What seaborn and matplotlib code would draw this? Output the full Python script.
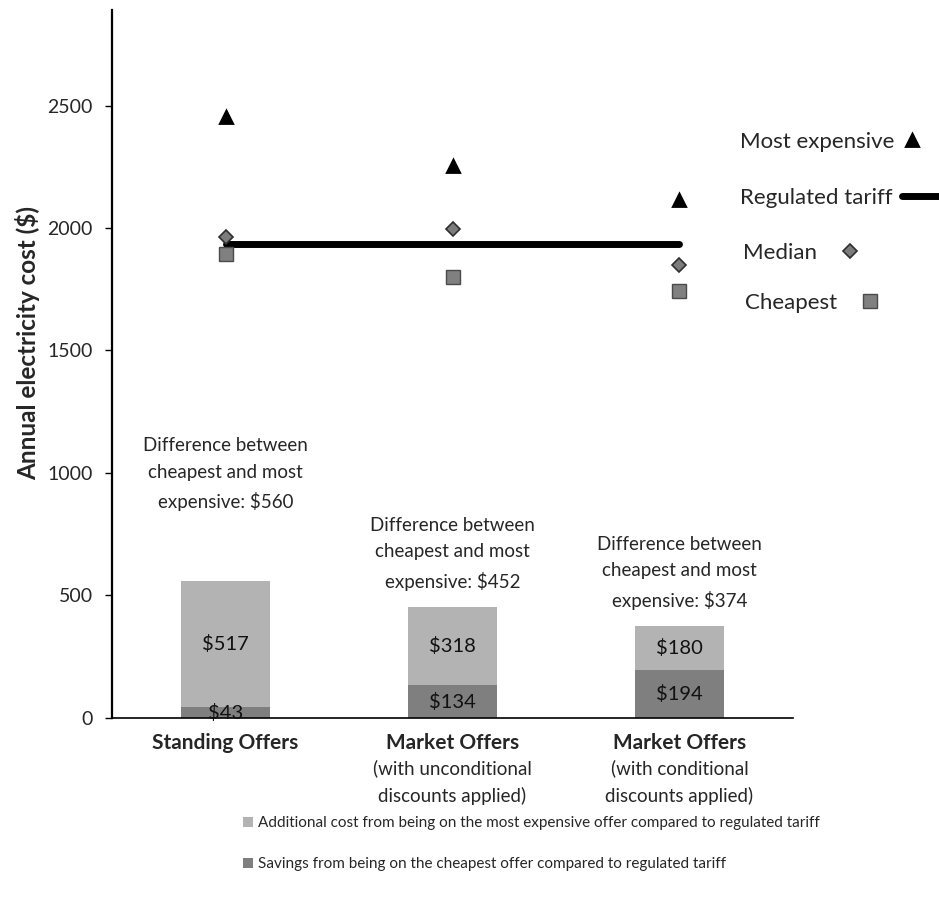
import numpy as np
import pandas as pd
import matplotlib
matplotlib.use("Agg")
import matplotlib.pyplot as plt
import seaborn as sns

# -- values --
offers = ["standing", "market_uncond", "market_cond"]
tick_main = ["Standing Offers", "Market Offers", "Market Offers"]
tick_sub = ["", "(with unconditional\ndiscounts applied)", "(with conditional\ndiscounts applied)"]

most_expensive = [2452, 2253, 2115]
median = [1965, 1995, 1850]
cheapest = [1892, 1801, 1741]
regulated = [1935, 1935, 1935]

savings = [43, 134, 194]
additional = [517, 318, 180]
difference = [560, 452, 374]

marker_labels = ["Most expensive", "Regulated tariff", "Median", "Cheapest"]
bar_labels = ["Additional cost from being on the most expensive offer compared to regulated tariff",
              "Savings from being on the cheapest offer compared to regulated tariff"]

LIGHT = "#b3b3b3"
DARK = "#7f7f7f"

df = pd.DataFrame({"offer": offers, "most_expensive": most_expensive, "median": median,
                   "cheapest": cheapest, "regulated": regulated, "savings": savings,
                   "additional": additional, "difference": difference})

sns.set_theme(style="white")
plt.rcParams["font.family"] = ["Lato", "DejaVu Sans"]

fig = plt.figure(figsize=(9.39, 8.97), dpi=100)
ax = fig.add_axes([0.1193, 0.1996, 0.7252, 0.7893])

# stacked bars: full difference first, savings drawn over the bottom
sns.barplot(data=df, x="offer", y="difference", color=LIGHT, saturation=1, width=0.39,
            errorbar=None, linewidth=0, ax=ax)
sns.barplot(data=df, x="offer", y="savings", color=DARK, saturation=1, width=0.39,
            errorbar=None, linewidth=0, ax=ax)

handles = []
sns.pointplot(data=df, x="offer", y="most_expensive", color="black", marker="^",
              linestyle="none", markersize=9, errorbar=None, ax=ax)
handles.append(ax.lines[-1])
sns.pointplot(data=df, x="offer", y="regulated", color="black", marker="",
              linewidth=5, errorbar=None, ax=ax)
handles.append(ax.lines[-1])
sns.pointplot(data=df, x="offer", y="median", color="#7c7c7c", marker="D",
              markeredgecolor="#2e2e2e", markeredgewidth=1.2, linestyle="none",
              markersize=7.5, errorbar=None, ax=ax)
handles.append(ax.lines[-1])
sns.pointplot(data=df, x="offer", y="cheapest", color="#808080", marker="s",
              markeredgecolor="#4a4a4a", markeredgewidth=1, linestyle="none",
              markersize=10, errorbar=None, ax=ax)
handles.append(ax.lines[-1])

# labels inside bar segments
for i, (s, a) in enumerate(zip(savings, additional)):
    ax.text(i, s + a / 2, f"${a}", ha="center", va="center", fontsize=14.5, color="#111111")
    ax.text(i, s / 2, f"${s}", ha="center", va="center", fontsize=14.5, color="#111111")

# difference notes above bars
note_offsets = [50, 12, 12]
for i, d in enumerate(difference):
    ax.annotate(f"Difference between\ncheapest and most\nexpensive: ${d}", xy=(i, d),
                xytext=(0, note_offsets[i]), textcoords="offset points",
                ha="center", va="bottom", fontsize=13.5, linespacing=1.7)

ax.set_xlim(-0.5, 2.5)
ax.set_ylim(0, 2890)
ax.set_yticks(np.arange(0, 2501, 500))
ax.set_xticks(range(len(offers)))
ax.set_xticklabels(tick_main, fontweight="bold", fontsize=15)
for i, sub in enumerate(tick_sub):
    ax.annotate(sub, xy=(i, 0), xycoords=("data", "axes fraction"), xytext=(0, -30),
                textcoords="offset points", ha="center", va="top", fontsize=13.5,
                linespacing=1.6)
ax.tick_params(axis="x", length=0, pad=11)
ax.tick_params(axis="y", left=True, length=5, width=1, pad=9, labelsize=14,
               direction="out", color="black")
ax.set_xlabel("")
ax.set_ylabel("Annual electricity cost ($)", fontweight="bold", fontsize=17.5)
ax.yaxis.set_label_coords(-0.106, 0.53)

for side in ["top", "right"]:
    ax.spines[side].set_visible(False)
ax.spines["left"].set_linewidth(1.6)
ax.spines["bottom"].set_linewidth(1.2)
ax.spines["left"].set_color("black")
ax.spines["bottom"].set_color("black")

# marker key on the right, one entry each
key_spots = [(0.788, 0.842, 0.3, 1.0), (0.788, 0.779, 0.45, 1.9),
             (0.791, 0.718, 1.0, 1.0), (0.793, 0.662, 1.0, 1.0)]
for h, lab, (kx, ky, pad, hl) in zip(handles, marker_labels, key_spots):
    fig.legend([h], [lab], loc="center left", bbox_to_anchor=(kx, ky), frameon=False,
               markerfirst=False, handletextpad=pad, handlelength=hl, borderpad=0,
               borderaxespad=0, fontsize=16)

# bar key underneath
fig.legend([ax.containers[0], ax.containers[1]], bar_labels, loc="upper left",
           bbox_to_anchor=(0.259, 0.090), frameon=False, fontsize=11,
           handlelength=0.65, handleheight=0.65, handletextpad=0.3,
           labelspacing=1.75, borderpad=0, borderaxespad=0)

fig.savefig("out.png", dpi=100)
